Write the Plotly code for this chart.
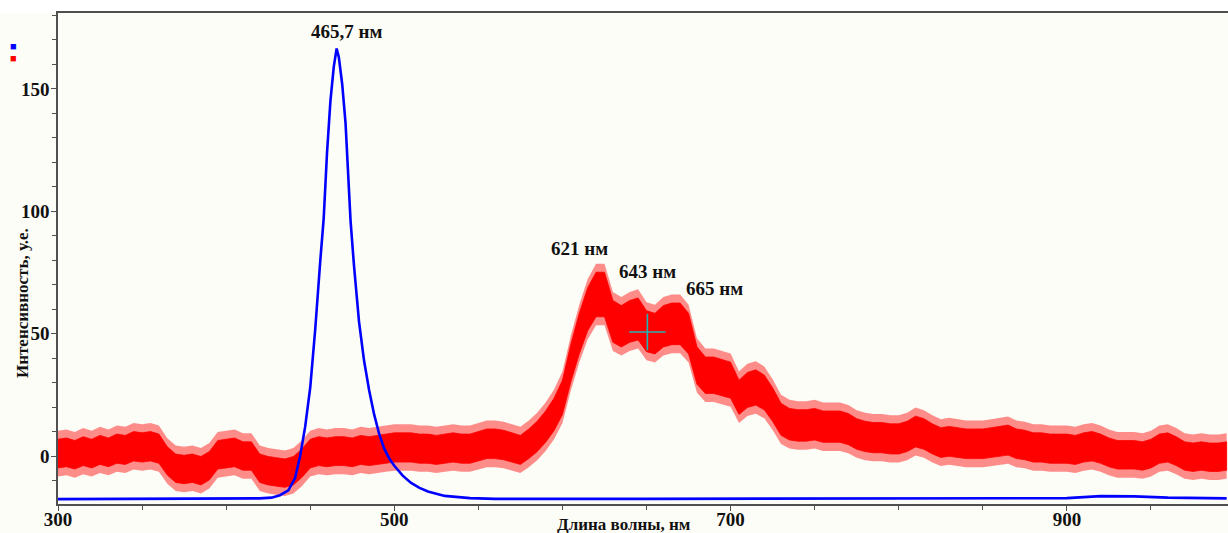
import plotly.graph_objects as go

# ---------------- data ----------------
red_x = list(range(300, 1000, 5))
red_mid = [
    1, 1.5, 0.5, 2, 1, 2.5, 1.5, 3, 2.5, 4,          # 300-345
    3.5, 4, 3, -2, -5, -5.5, -5, -6, -4, 0.5,        # 350-395
    1, 1.5, 0, 0, -5, -6, -6.5, -7, -6, -3,          # 400-445
    1, 2, 1.5, 2, 2, 1.5, 2.5, 2, 2.5, 3,            # 450-495
    3.5, 3.5, 3.5, 3, 3, 2.5, 3, 3.5, 3, 3,          # 500-545
    4, 5, 5, 4.5, 3.5, 2.5, 5, 8, 12, 17,            # 550-595
    24, 38, 50, 60, 66, 66, 55, 53, 55, 56,          # 600-645
    51, 50, 53, 54, 54, 50, 37, 33, 33, 32,          # 650-695
    31, 24, 27, 28, 26, 21, 15, 13, 12.5, 12.5,      # 700-745
    13, 12, 12, 12, 11, 9, 8, 7.5, 7.5, 7,           # 750-795
    7, 8, 10, 9, 7, 5.5, 6, 5.5, 5, 5,               # 800-845
    5, 5.5, 6, 6.5, 5, 4.5, 3.5, 3.5, 3, 3,          # 850-895
    3, 2.5, 3.5, 4, 3, 1.5, 0.5, 0.5, 0.5, 0,        # 900-945
    1, 3, 3.5, 2, 0, -0.5, 0, -0.5, -0.5, 0,         # 950-995
]

blue_x = [300, 350, 400, 420, 427, 432, 437, 441, 444, 447, 450, 453, 456, 458,
          460, 462, 464, 465.7, 467, 469, 471, 473, 474, 476, 479, 482, 485, 488,
          491, 494, 497, 500, 505, 510, 515, 520, 530, 545, 560, 650, 750, 850,
          900, 920, 940, 960, 995]
blue_y = [-17.6, -17.5, -17.5, -17.3, -17, -16, -14, -9, 0, 12, 28, 52, 80, 97,
          124, 145, 159, 166.5, 163, 152, 136, 106, 96, 78, 55, 39, 27, 17,
          9, 3, -1, -4, -8, -11, -13, -14.5, -16.3, -17.2, -17.5, -17.5, -17.5, -17.4,
          -17.2, -16.4, -16.5, -17, -17.3]

peak_labels = ["465,7 нм", "621 нм", "643 нм", "665 нм"]
peak_label_x = [471.8, 610, 650.7, 690.3]
peak_label_y = [173.3, 84.6, 75.4, 68.5]

cursor_x = [650.5]
cursor_y = [50.7]

x_range = [300, 995.8]
y_range = [-19.6, 181.0]

# ---------------- figure ----------------
FONT = "Liberation Serif"
BG = "#FDFDF7"
PW, PH = 1170, 491   # plot area size in px

inner = [5.8 + 0.05 * max(m, 0) for m in red_mid]
outer = [w + 3.5 for w in inner]

fig = go.Figure()

fig.add_trace(go.Scatter(
    x=red_x + red_x[::-1],
    y=[m + w for m, w in zip(red_mid, outer)] + [m - w for m, w in zip(red_mid[::-1], outer[::-1])],
    fill="toself", fillcolor="rgba(255,30,30,0.5)", line=dict(width=0),
    mode="lines", hoverinfo="skip", showlegend=False))
fig.add_trace(go.Scatter(
    x=red_x + red_x[::-1],
    y=[m + w for m, w in zip(red_mid, inner)] + [m - w for m, w in zip(red_mid[::-1], inner[::-1])],
    fill="toself", fillcolor="#FF0000", line=dict(width=0.8, color="#FF0000"),
    mode="lines", hoverinfo="skip", showlegend=False))

fig.add_trace(go.Scatter(
    x=blue_x, y=blue_y, mode="lines",
    line=dict(color="#0000FF", width=2.6), showlegend=False))

fig.add_trace(go.Scatter(
    x=cursor_x, y=cursor_y, mode="markers",
    marker=dict(symbol="cross-thin", size=26, line=dict(color="#1FB5B5", width=1.6)),
    showlegend=False))

for t, x, y in zip(peak_labels, peak_label_x, peak_label_y):
    fig.add_annotation(x=x, y=y, text=f"<b>{t}</b>", showarrow=False,
                       font=dict(family=FONT, size=19, color="#111111"),
                       xanchor="center", yanchor="middle")

fig.add_annotation(xref="paper", yref="paper", x=(624 - 58) / PW, y=-(524 - 504) / PH,
                   text="<b>Длина волны, нм</b>", showarrow=False,
                   font=dict(family=FONT, size=17, color="#111111"),
                   xanchor="center", yanchor="middle")
fig.add_annotation(xref="paper", yref="paper", x=-(58 - 22) / PW, y=(504 - 303) / PH,
                   text="<b>Интенсивность, у.е.</b>", showarrow=False, textangle=-90,
                   font=dict(family=FONT, size=17, color="#111111"),
                   xanchor="center", yanchor="middle")

for col, py in (("#0000FF", 46), ("#FF0000", 58)):
    fig.add_annotation(xref="paper", yref="paper", x=-(58 - 13) / PW, y=(504 - py) / PH,
                       text="■", showarrow=False, font=dict(size=11, color=col),
                       xanchor="center", yanchor="middle")

fig.add_shape(type="rect", xref="paper", yref="paper", x0=-0.06, x1=1.0, y0=1.0, y1=1.04,
              fillcolor="white", line=dict(width=0), layer="below")

fig.update_layout(
    width=1228, height=533,
    margin=dict(l=58, r=0, t=13, b=29, autoexpand=False),
    paper_bgcolor=BG, plot_bgcolor=BG,
    showlegend=False,
    font=dict(family=FONT, color="#111111"),
)
fig.update_xaxes(
    range=x_range, showgrid=False, zeroline=False, automargin=False,
    showline=True, linecolor="#505050", linewidth=1.5, mirror=True,
    ticks="outside", ticklen=5, tickcolor="#505050",
    tick0=300, dtick=200, ticklabelstandoff=-8,
    minor=dict(dtick=50, ticks="outside", ticklen=4, tickcolor="#505050", showgrid=False),
    tickfont=dict(family=FONT, size=19, color="#111111"),
    tickprefix="<b>", ticksuffix="</b>",
)
fig.update_yaxes(
    range=y_range, showgrid=False, zeroline=False, automargin=False,
    showline=True, linecolor="#505050", linewidth=1.5,
    ticks="outside", ticklen=5, tickcolor="#505050",
    tick0=0, dtick=50, ticklabelstandoff=-2,
    minor=dict(dtick=10, ticks="outside", ticklen=4, tickcolor="#505050", showgrid=False),
    tickfont=dict(family=FONT, size=19, color="#111111"),
    tickprefix="<b>", ticksuffix="</b>",
)

# remove the default page margin so the 1228x533 figure fills the window exactly
fig.write_html("out.html", config={"displayModeBar": False},
               post_script="document.body.style.margin='0';document.body.style.overflow='hidden';")
